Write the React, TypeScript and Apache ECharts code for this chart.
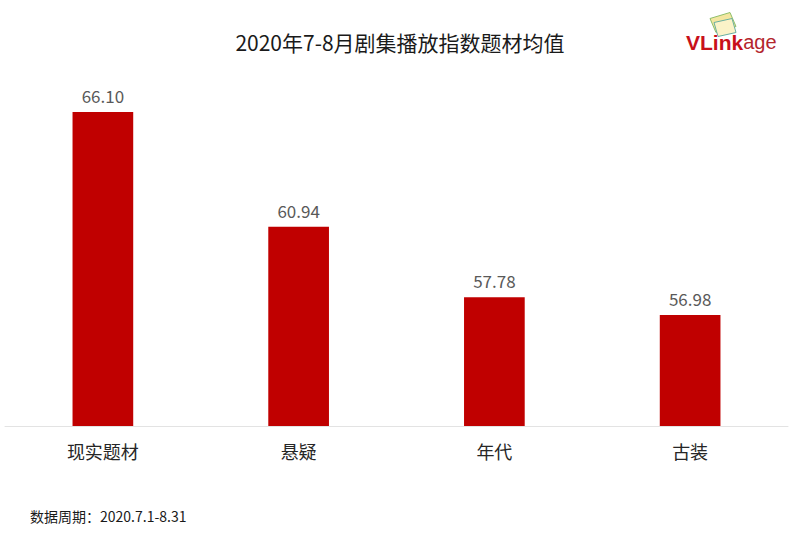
import React, { useEffect, useRef } from "react";
import * as echarts from "echarts";

const categories = ["现实题材", "悬疑", "年代", "古装"];
const values = [66.1, 60.94, 57.78, 56.98];
const titleText = "2020年7-8月剧集播放指数题材均值";
const noteText = "数据周期：2020.7.1-8.31";

const FONT = "'Noto Sans CJK SC', 'Microsoft YaHei', sans-serif";

export default function App() {
  const ref = useRef<HTMLDivElement>(null);
  useEffect(() => {
    document.body.style.margin = "0";
    if (!ref.current) return;
    const chart = echarts.init(ref.current, null, { renderer: "svg" });
    chart.setOption({
      animation: false,
      backgroundColor: "#ffffff",
      title: {
        text: titleText,
        left: "center",
        top: 26,
        textStyle: { fontFamily: FONT, fontSize: 21, fontWeight: "normal", color: "#1a1a1a" },
      },
      grid: { left: 5, right: 12, top: 25, bottom: 111, containLabel: false },
      xAxis: {
        type: "category",
        data: categories,
        axisLine: { lineStyle: { color: "#e3e3e3", width: 1 } },
        axisTick: { show: false },
        axisLabel: { fontFamily: FONT, fontSize: 18, color: "#262626", margin: 16 },
      },
      yAxis: {
        type: "value",
        min: 52,
        max: 70,
        show: false,
        splitLine: { show: false },
      },
      series: [
        {
          type: "bar",
          data: values,
          barWidth: "31%",
          itemStyle: { color: "#c00000" },
          label: {
            show: true,
            position: "top",
            distance: 8,
            formatter: (p: any) => p.value.toFixed(2),
            fontFamily: FONT,
            fontSize: 17,
            color: "#595959",
          },
        },
      ],
      graphic: [
        {
          type: "text",
          left: 30,
          top: 509,
          style: { text: noteText, font: `14px ${FONT}`, fill: "#1a1a1a" },
        },
        {
          type: "group",
          left: 686,
          top: 12,
          children: [
            {
              type: "polygon",
              shape: { points: [[24, 6], [44, 0], [50, 14], [30, 20]] },
              style: { fill: "#f3e6a0", stroke: "#8fbf6a", lineWidth: 1 },
            },
            {
              type: "polygon",
              shape: { points: [[28, 10], [46, 6], [50, 20], [32, 24]] },
              style: { fill: "#fbf3c8", stroke: "#6ab0a0", lineWidth: 1 },
            },
            {
              type: "text",
              x: 0,
              y: 19,
              style: {
                text: "{a|VLink}{b|age}",
                rich: {
                  a: { font: `bold 21px Arial, 'Liberation Sans', sans-serif`, fill: "#c8101a" },
                  b: { font: `20px Arial, 'Liberation Sans', sans-serif`, fill: "#b3262d" },
                },
              },
            },
          ],
        },
      ],
    });
    return () => chart.dispose();
  }, []);
  return <div ref={ref} style={{ width: 800, height: 537 }} />;
}
